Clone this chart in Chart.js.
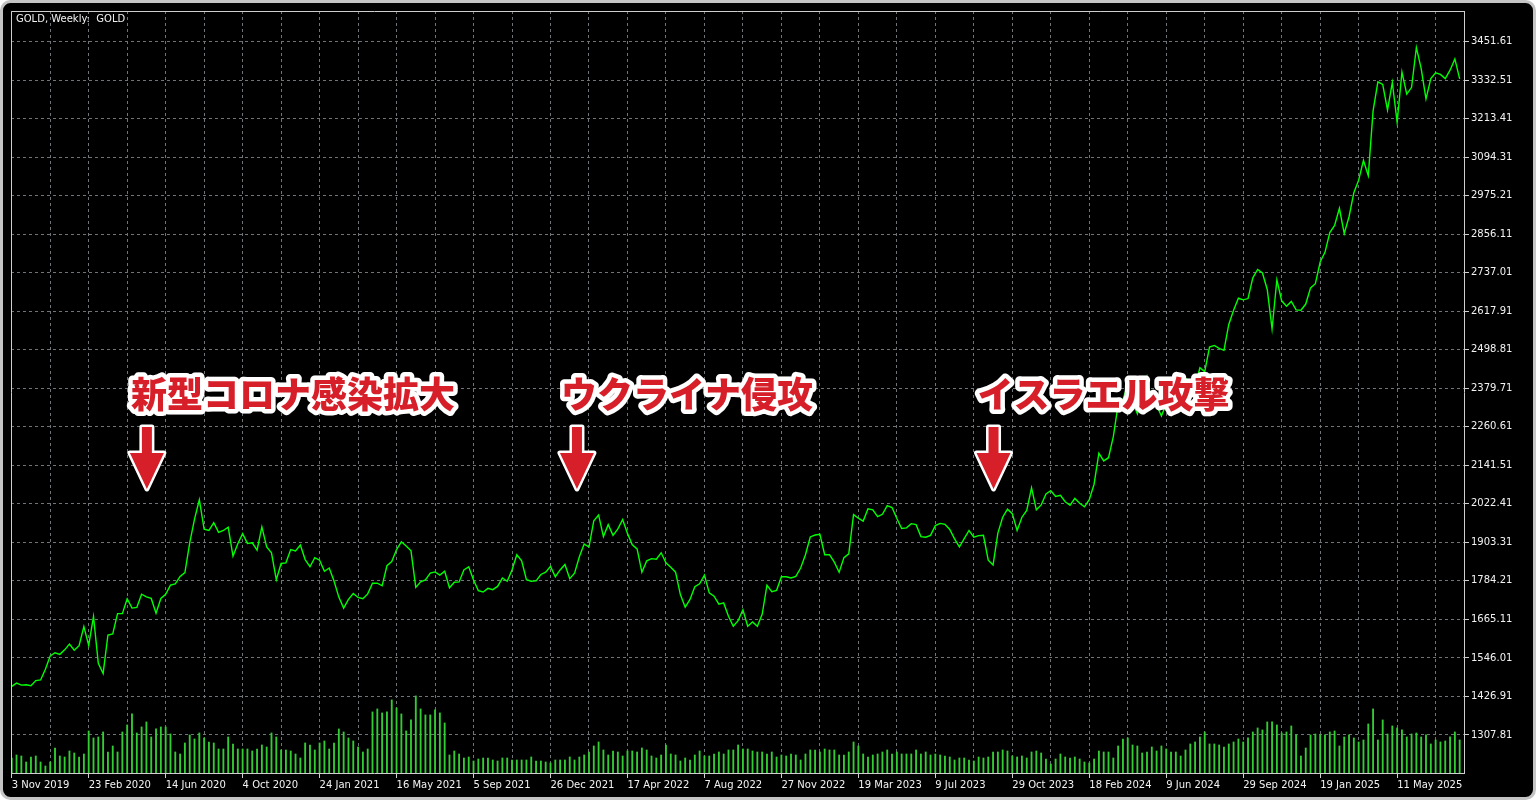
<!DOCTYPE html>
<html>
<head>
<meta charset="utf-8">
<title>GOLD, Weekly</title>
<script src="https://cdn.jsdelivr.net/npm/chart.js@4.4.1/dist/chart.umd.min.js"></script>
<style>
  html, body { margin: 0; padding: 0; background: #fff; }
  #wrap { width: 1536px; height: 800px; }
</style>
</head>
<body>
<div id="wrap"><canvas id="goldChart" width="1536" height="800"></canvas></div>
<script>
const chartTitle = "GOLD, Weekly:  GOLD";

// one label every 16 weeks, first bar = week of 3 Nov 2019
const dateLabels = ["3 Nov 2019", "23 Feb 2020", "14 Jun 2020", "4 Oct 2020", "24 Jan 2021",
  "16 May 2021", "5 Sep 2021", "26 Dec 2021", "17 Apr 2022", "7 Aug 2022", "27 Nov 2022",
  "19 Mar 2023", "9 Jul 2023", "29 Oct 2023", "18 Feb 2024", "9 Jun 2024", "29 Sep 2024",
  "19 Jan 2025", "11 May 2025"];

const priceTicks = [1307.81, 1426.91, 1546.01, 1665.11, 1784.21, 1903.31, 2022.41, 2141.51,
  2260.61, 2379.71, 2498.81, 2617.91, 2737.01, 2856.11, 2975.21, 3094.31, 3213.41, 3332.51, 3451.61];

// weekly close
const prices = [
  1458,1468,1462,1463,1460,1476,1478,1511,1552,1562,1557,1571,1589,1570,1584,1643,
  1585,1674,1529,1498,1617,1620,1683,1683,1729,1700,1702,1743,1735,1730,1684,1730,
  1743,1771,1775,1798,1810,1902,1975,2035,1944,1940,1964,1934,1940,1950,1861,1899,
  1930,1900,1902,1879,1951,1889,1871,1788,1838,1840,1881,1877,1895,1850,1828,1856,
  1848,1814,1824,1784,1734,1700,1727,1745,1733,1729,1744,1777,1777,1769,1831,1844,
  1881,1905,1892,1877,1764,1781,1787,1808,1812,1802,1814,1763,1780,1781,1818,1828,
  1787,1754,1750,1761,1757,1767,1793,1783,1818,1865,1846,1788,1783,1784,1804,1811,
  1829,1797,1818,1835,1791,1808,1859,1898,1889,1970,1988,1921,1958,1925,1945,1974,
  1931,1896,1883,1811,1846,1853,1851,1871,1840,1826,1811,1742,1703,1727,1766,1775,
  1802,1747,1737,1712,1716,1675,1644,1661,1695,1644,1657,1644,1681,1771,1751,1755,
  1797,1797,1793,1798,1824,1865,1920,1926,1928,1865,1865,1842,1811,1856,1868,1989,
  1978,1969,2007,2004,1983,1990,2017,2011,1977,1946,1948,1961,1958,1921,1919,1925,
  1955,1962,1959,1943,1914,1889,1915,1940,1919,1924,1925,1848,1833,1932,1981,2006,
  1992,1940,1981,2002,2072,2004,2019,2053,2063,2045,2049,2029,2018,2039,2024,2013,
  2035,2083,2179,2155,2165,2230,2329,2344,2392,2337,2301,2360,2415,2334,2327,2294,
  2332,2321,2326,2392,2411,2400,2386,2443,2431,2507,2512,2503,2497,2577,2621,2658,
  2653,2657,2721,2747,2736,2685,2563,2715,2650,2633,2648,2622,2621,2640,2690,2703,
  2770,2800,2861,2883,2936,2858,2910,2984,3023,3084,3037,3237,3327,3319,3240,3325,
  3202,3357,3289,3310,3433,3368,3274,3337,3355,3350,3337,3363,3398,3336
];

// tick volume, relative units
const volumes = [
  15,18,17,11,16,17,11,7,11,25,17,16,22,20,16,19,
  42,35,36,41,21,27,21,41,48,59,40,46,51,36,44,46,
  46,39,21,19,30,38,34,40,35,31,30,24,24,36,29,24,
  24,24,22,24,28,26,40,36,23,23,22,19,15,30,28,23,
  30,32,24,30,44,41,35,32,26,21,24,61,64,60,61,73,
  65,59,42,53,77,64,58,58,63,60,50,18,22,19,15,16,
  12,14,15,15,13,12,15,15,13,13,13,13,16,12,12,11,
  10,13,13,13,16,13,16,18,21,27,31,23,18,22,21,17,
  22,22,21,25,23,17,15,18,28,19,18,12,15,13,18,22,
  17,17,19,21,19,23,23,28,24,24,22,21,21,19,21,16,
  18,17,19,18,13,19,23,23,21,24,23,23,18,18,21,31,
  27,19,16,18,19,21,23,19,21,19,19,19,23,19,21,18,
  19,18,17,16,13,15,15,13,12,16,15,16,21,21,23,22,
  17,16,17,15,21,22,20,14,9,14,19,16,15,16,14,11,
  10,14,22,21,21,15,27,34,35,28,27,20,21,26,22,27,
  24,21,21,17,23,29,31,36,41,29,29,28,26,29,31,34,
  31,35,41,45,43,51,51,48,40,41,47,38,17,25,38,39,
  38,38,41,42,27,36,38,35,31,33,49,64,33,53,39,47,
  45,43,36,39,40,36,38,29,33,31,32,36,41,33
];

// annotations
const eventLabels = ["新型コロナ感染拡大", "ウクライナ侵攻", "イスラエル攻撃"];
const eventWeeks = [28.1, 117.5, 204.1];
const eventLevel = 2362;

const gridWeeks = [];
for (let w = 0; w < prices.length; w += 8) gridWeeks.push(w);

const lineColor = "#00ff00";
const volColor = "#32cd32";
const gridColor = "#6f7479";
const axisColor = "#cfcfcf";
const textColor = "#f2f2f2";
const red = "#d61f29";
const axisFont = { family: "DejaVu Sans", size: 10 };

const mtPlugin = {
  id: "mtFrame",
  beforeDraw(chart) {
    const ctx = chart.ctx;
    ctx.save();
    ctx.fillStyle = "#ffffff";
    ctx.fillRect(0, 0, chart.width, chart.height);
    ctx.beginPath();
    ctx.roundRect(1.5, 1.5, chart.width - 3, chart.height - 3, 9);
    ctx.fillStyle = "#000000";
    ctx.fill();
    ctx.lineWidth = 3;
    ctx.strokeStyle = "#c4c4c4";
    ctx.stroke();
    ctx.restore();
  },
  afterDatasetsDraw(chart) {
    const { ctx, chartArea: a } = chart;
    ctx.save();
    ctx.strokeStyle = axisColor;
    ctx.lineWidth = 1;
    ctx.beginPath();
    ctx.moveTo(a.left + 0.5, a.bottom);
    ctx.lineTo(a.left + 0.5, a.top + 0.5);
    ctx.lineTo(a.right, a.top + 0.5);
    ctx.stroke();

    ctx.fillStyle = textColor;
    ctx.font = "10px 'DejaVu Sans'";
    ctx.textBaseline = "top";
    ctx.fillText(chartTitle, a.left + 5, a.top + 3.5);
    ctx.restore();
  },
  afterDraw(chart) {
    const ctx = chart.ctx;
    const xs = chart.scales.x;
    const ty = chart.scales.y.getPixelForValue(eventLevel);
    ctx.save();
    eventLabels.forEach((txt, k) => {
      const ax = xs.getPixelForValue(eventWeeks[k]);
      ctx.font = "900 36px 'Noto Sans CJK JP'";
      ctx.textAlign = "left";
      ctx.textBaseline = "middle";
      ctx.lineJoin = "round";
      ctx.lineWidth = 9;
      ctx.strokeStyle = "#ffffff";
      ctx.strokeText(txt, ax - 16, ty);
      ctx.fillStyle = red;
      ctx.fillText(txt, ax - 16, ty);

      // down arrow
      const top = ty + 33, neck = ty + 59, tip = ty + 95;
      ctx.beginPath();
      ctx.moveTo(ax - 5, top);
      ctx.lineTo(ax + 5, top);
      ctx.lineTo(ax + 5, neck);
      ctx.lineTo(ax + 17, neck);
      ctx.lineTo(ax, tip);
      ctx.lineTo(ax - 17, neck);
      ctx.lineTo(ax - 5, neck);
      ctx.closePath();
      ctx.lineJoin = "round";
      ctx.lineWidth = 5;
      ctx.strokeStyle = "#ffffff";
      ctx.stroke();
      ctx.fillStyle = red;
      ctx.fill();
    });
    ctx.restore();
  }
};

new Chart(document.getElementById("goldChart"), {
  type: "line",
  data: {
    datasets: [
      {
        type: "line",
        data: prices.map((p, i) => ({ x: i, y: p })),
        borderColor: lineColor,
        borderWidth: 1.4,
        pointRadius: 0,
        tension: 0,
        yAxisID: "y",
        order: 0
      },
      {
        type: "bar",
        data: volumes.map((v, i) => ({ x: i, y: v })),
        backgroundColor: volColor,
        barThickness: 1.2,
        yAxisID: "yv",
        order: 1
      }
    ]
  },
  options: {
    responsive: false,
    devicePixelRatio: 1,
    animation: false,
    events: [],
    layout: { padding: { left: 11, top: 11, right: 0, bottom: 0 } },
    plugins: { legend: { display: false }, tooltip: { enabled: false } },
    scales: {
      x: {
        type: "linear",
        bounds: "data",
        offset: false,
        min: -0.15,
        max: 301.9,
        afterBuildTicks: (s) => { s.ticks = gridWeeks.map(v => ({ value: v })); },
        afterFit: (s) => { s.height = 27; },
        ticks: {
          autoSkip: false,
          maxRotation: 0,
          align: "start",
          padding: 1,
          color: textColor,
          font: axisFont,
          callback: (v) => (v % 16 === 0 ? dateLabels[v / 16] : "")
        },
        grid: {
          offset: false,
          color: gridColor,
          tickLength: 5,
          tickColor: (c) => (c.tick && c.tick.value % 16 === 0 ? axisColor : "rgba(0,0,0,0)")
        },
        border: { color: axisColor, width: 1, dash: [3, 3] }
      },
      y: {
        type: "linear",
        position: "right",
        bounds: "data",
        min: 1190.26,
        max: 3545.96,
        afterBuildTicks: (s) => { s.ticks = priceTicks.map(v => ({ value: v })); },
        afterFit: (s) => { s.width = 72; },
        ticks: {
          padding: 2,
          color: textColor,
          font: axisFont,
          callback: (v) => v.toFixed(2)
        },
        grid: { color: gridColor, tickLength: 5, tickColor: axisColor },
        border: { color: axisColor, width: 1, dash: [3, 3] }
      },
      yv: { type: "linear", display: false, min: 0, max: 761 }
    }
  },
  plugins: [mtPlugin]
});
</script>
</body>
</html>
